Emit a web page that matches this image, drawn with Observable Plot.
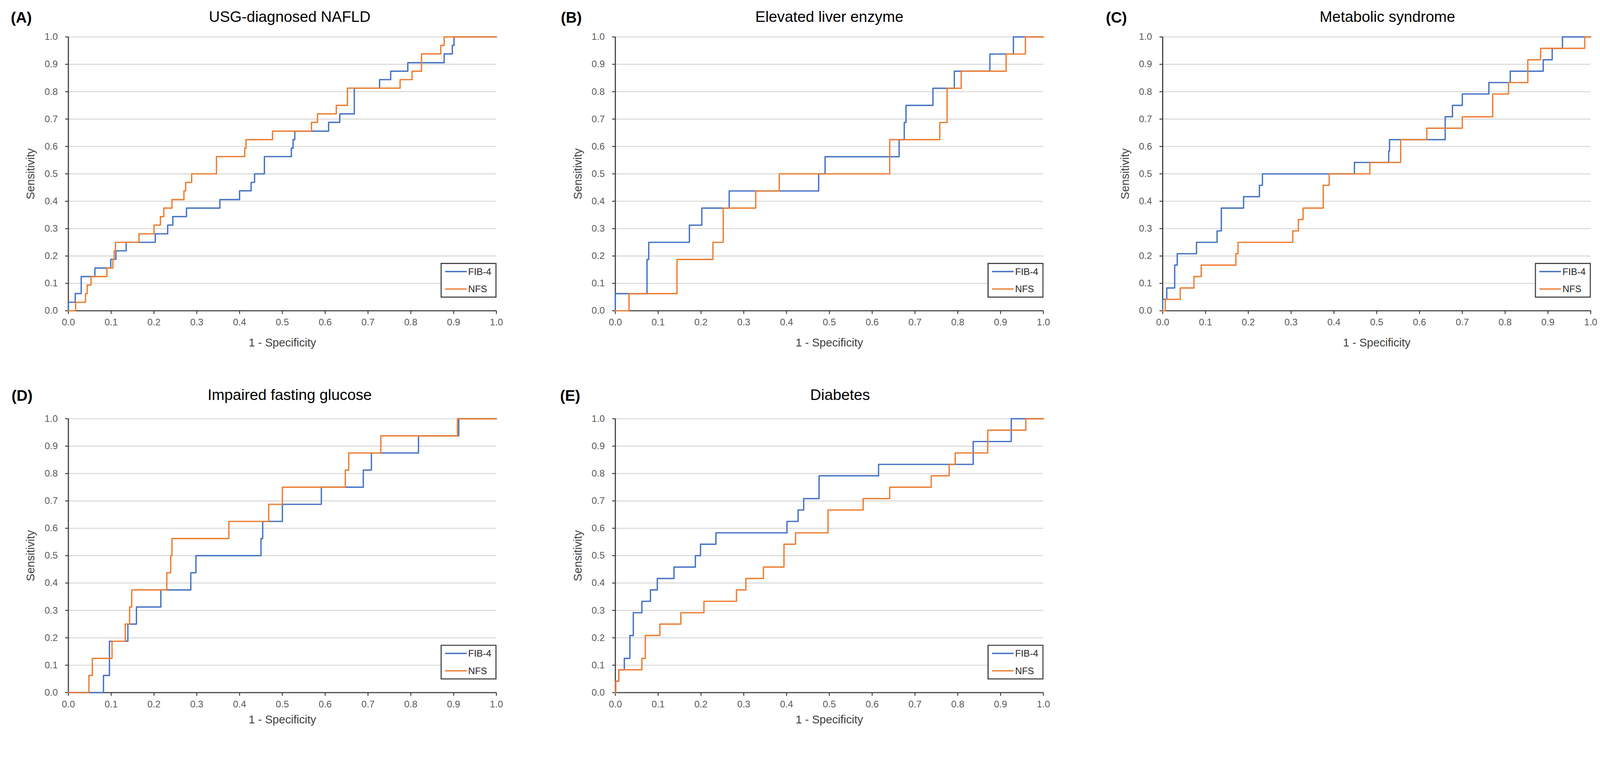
<!DOCTYPE html>
<html>
<head>
<meta charset="utf-8">
<script src="https://cdn.jsdelivr.net/npm/d3@7"></script>
<script src="https://cdn.jsdelivr.net/npm/@observablehq/plot@0.6"></script>
<style>
  html, body { margin: 0; padding: 0; background: #fff; overflow: hidden; }
  body { font-family: "Liberation Sans", Arial, sans-serif; }
  #root { position: absolute; left: 0; top: 0; width: 4224px; height: 1938px; transform-origin: 0 0; background: #fff; }
  .panel { position: absolute; }
  .legend { position: absolute; }
</style>
</head>
<body>
<div id="root"></div>
<script>
// ---------- text ----------
const tickValues = [0, 0.1, 0.2, 0.3, 0.4, 0.5, 0.6, 0.7, 0.8, 0.9, 1.0];
const titles = ["USG-diagnosed NAFLD", "Elevated liver enzyme", "Metabolic syndrome", "Impaired fasting glucose", "Diabetes"];
const letters = ["(A)", "(B)", "(C)", "(D)", "(E)"];
const seriesNames = ["FIB-4", "NFS"];
const xLabel = "1 - Specificity";
const yLabel = "Sensitivity";

// ---------- data (1 - specificity, sensitivity) at each step corner ----------
// (A) USG-diagnosed NAFLD
const fib4FprA = [0, 0, 0.016, 0.030, 0.062, 0.099, 0.111, 0.135, 0.203, 0.232, 0.244, 0.276, 0.354, 0.400, 0.427, 0.435, 0.458, 0.521, 0.525, 0.529, 0.608, 0.634, 0.668, 0.727, 0.753, 0.793, 0.878, 0.897, 0.901, 1.0];
const fib4TprA = [0, 0.031, 0.063, 0.125, 0.156, 0.188, 0.219, 0.250, 0.281, 0.313, 0.344, 0.375, 0.406, 0.438, 0.469, 0.500, 0.563, 0.594, 0.625, 0.656, 0.688, 0.719, 0.813, 0.844, 0.875, 0.906, 0.938, 0.969, 1.0, 1.0];
const nfsFprA = [0, 0.017, 0.040, 0.044, 0.053, 0.090, 0.104, 0.107, 0.110, 0.165, 0.200, 0.215, 0.223, 0.242, 0.270, 0.274, 0.288, 0.346, 0.412, 0.415, 0.477, 0.568, 0.582, 0.626, 0.652, 0.775, 0.803, 0.825, 0.870, 0.878, 1.0];
const nfsTprA = [0, 0.031, 0.063, 0.094, 0.125, 0.156, 0.188, 0.219, 0.250, 0.281, 0.313, 0.344, 0.375, 0.406, 0.438, 0.469, 0.500, 0.563, 0.594, 0.625, 0.656, 0.688, 0.719, 0.750, 0.813, 0.844, 0.875, 0.938, 0.969, 1.0, 1.0];

// (B) Elevated liver enzyme
const fib4FprB = [0, 0, 0.074, 0.078, 0.173, 0.202, 0.266, 0.475, 0.490, 0.663, 0.675, 0.679, 0.742, 0.792, 0.875, 0.930, 1.0];
const fib4TprB = [0, 0.0625, 0.1875, 0.25, 0.3125, 0.375, 0.4375, 0.5, 0.5625, 0.625, 0.6875, 0.75, 0.8125, 0.875, 0.9375, 1.0, 1.0];
const nfsFprB = [0, 0.032, 0.144, 0.228, 0.252, 0.328, 0.383, 0.641, 0.758, 0.775, 0.808, 0.913, 0.958, 1.0];
const nfsTprB = [0, 0.0625, 0.1875, 0.25, 0.375, 0.4375, 0.5, 0.625, 0.6875, 0.8125, 0.875, 0.9375, 1.0, 1.0];

// (C) Metabolic syndrome
const fib4FprC = [0, 0, 0.0095, 0.028, 0.034, 0.079, 0.127, 0.137, 0.189, 0.226, 0.233, 0.448, 0.528, 0.530, 0.660, 0.677, 0.700, 0.762, 0.812, 0.889, 0.910, 0.934, 1.0];
const fib4TprC = [0, 0.0417, 0.0833, 0.1667, 0.2083, 0.25, 0.2917, 0.375, 0.4167, 0.4583, 0.5, 0.5417, 0.5833, 0.625, 0.7083, 0.75, 0.7917, 0.8333, 0.875, 0.9167, 0.9583, 1.0, 1.0];
const nfsFprC = [0, 0.006, 0.041, 0.073, 0.090, 0.171, 0.176, 0.304, 0.317, 0.328, 0.375, 0.389, 0.484, 0.556, 0.617, 0.700, 0.771, 0.808, 0.853, 0.883, 0.986, 1.0];
const nfsTprC = [0, 0.0417, 0.0833, 0.125, 0.1667, 0.2083, 0.25, 0.2917, 0.3333, 0.375, 0.4583, 0.5, 0.5417, 0.625, 0.6667, 0.7083, 0.7917, 0.8333, 0.9167, 0.9583, 1.0, 1.0];

// (D) Impaired fasting glucose
const fib4FprD = [0, 0.082, 0.096, 0.139, 0.159, 0.216, 0.286, 0.298, 0.450, 0.454, 0.500, 0.591, 0.689, 0.708, 0.818, 0.912, 1.0];
const fib4TprD = [0, 0.0625, 0.1875, 0.25, 0.3125, 0.375, 0.4375, 0.5, 0.5625, 0.625, 0.6875, 0.75, 0.8125, 0.875, 0.9375, 1.0, 1.0];
const nfsFprD = [0, 0.048, 0.056, 0.102, 0.133, 0.143, 0.148, 0.230, 0.239, 0.242, 0.375, 0.468, 0.500, 0.647, 0.655, 0.730, 0.909, 1.0];
const nfsTprD = [0, 0.0625, 0.125, 0.1875, 0.25, 0.3125, 0.375, 0.4375, 0.5, 0.5625, 0.625, 0.6875, 0.75, 0.8125, 0.875, 0.9375, 1.0, 1.0];

// (E) Diabetes
const fib4FprE = [0, 0.001, 0.008, 0.021, 0.034, 0.042, 0.062, 0.082, 0.098, 0.137, 0.187, 0.199, 0.235, 0.401, 0.427, 0.440, 0.476, 0.615, 0.836, 0.925, 1.0];
const fib4TprE = [0, 0.0417, 0.0833, 0.125, 0.2083, 0.2917, 0.3333, 0.375, 0.4167, 0.4583, 0.5, 0.5417, 0.5833, 0.625, 0.6667, 0.7083, 0.7917, 0.8333, 0.9167, 1.0, 1.0];
const nfsFprE = [0, 0.001, 0.008, 0.062, 0.070, 0.104, 0.153, 0.207, 0.283, 0.305, 0.346, 0.394, 0.421, 0.497, 0.579, 0.641, 0.738, 0.780, 0.794, 0.870, 0.959, 1.0];
const nfsTprE = [0, 0.0417, 0.0833, 0.125, 0.2083, 0.25, 0.2917, 0.3333, 0.375, 0.4167, 0.4583, 0.5417, 0.5833, 0.6667, 0.7083, 0.75, 0.7917, 0.8333, 0.875, 0.9583, 1.0, 1.0];

const fib4Fpr = [fib4FprA, fib4FprB, fib4FprC, fib4FprD, fib4FprE];
const fib4Tpr = [fib4TprA, fib4TprB, fib4TprC, fib4TprD, fib4TprE];
const nfsFpr = [nfsFprA, nfsFprB, nfsFprC, nfsFprD, nfsFprE];
const nfsTpr = [nfsTprA, nfsTprB, nfsTprC, nfsTprD, nfsTprE];

// ---------- layout ----------
const root = document.getElementById("root");
const s = Math.min(window.innerWidth / 4224, window.innerHeight / 1938);
root.style.transform = `scale(${s})`;

const colors = ["#4472C4", "#ED7D31"];
const PW = 1130, PH = 723;
const ML = 160, MR = 25, MT = 80, MB = 110;
const layout = [
  {left: 180,  top: 97,   letterDx: -152, letterDy: -38, titleFrac: 0.517, titleDy: -40, xLabelDy: 94},
  {left: 1624, top: 97,   letterDx: -144, letterDy: -38, titleFrac: 0.500, titleDy: -40, xLabelDy: 94},
  {left: 3069, top: 97,   letterDx: -150, letterDy: -38, titleFrac: 0.525, titleDy: -40, xLabelDy: 94},
  {left: 180,  top: 1105, letterDx: -150, letterDy: -47, titleFrac: 0.517, titleDy: -49, xLabelDy: 81},
  {left: 1624, top: 1105, letterDx: -146, letterDy: -47, titleFrac: 0.525, titleDy: -49, xLabelDy: 81}
];
const font = "Liberation Sans, Arial, sans-serif";
const fmt = d3.format(".1f");

layout.forEach((L, i) => {
  const fib = fib4Fpr[i].map((x, j) => ({fpr: x, tpr: fib4Tpr[i][j]}));
  const nfs = nfsFpr[i].map((x, j) => ({fpr: x, tpr: nfsTpr[i][j]}));

  const chart = Plot.plot({
    width: PW + ML + MR,
    height: PH + MT + MB,
    marginLeft: ML, marginRight: MR, marginTop: MT, marginBottom: MB,
    style: {fontFamily: font, background: "transparent", overflow: "visible"},
    x: {domain: [0, 1], label: null},
    y: {domain: [0, 1], label: null},
    marks: [
      Plot.gridY(tickValues.slice(1), {stroke: "#d9d9d9", strokeOpacity: 1, strokeWidth: 2.7}),
      Plot.axisX(tickValues, {tickSize: 9, tickPadding: 12, tickFormat: fmt, fontSize: 25,
        fill: "#595959", stroke: "#3f3f3f", strokeWidth: 2.5, label: null}),
      Plot.axisY(tickValues, {tickSize: 8, tickPadding: 20, tickFormat: fmt, fontSize: 25,
        fill: "#595959", stroke: "#3f3f3f", strokeWidth: 2.5, label: null}),
      Plot.ruleY([0], {stroke: "#3f3f3f", strokeWidth: 3}),
      Plot.ruleX([0], {stroke: "#3f3f3f", strokeWidth: 3}),
      Plot.line(fib, {x: "fpr", y: "tpr", curve: "step-after", stroke: colors[0], strokeWidth: 3.5}),
      Plot.line(nfs, {x: "fpr", y: "tpr", curve: "step-after", stroke: colors[1], strokeWidth: 3.5}),
      Plot.text([letters[i]], {text: d => d, frameAnchor: "top-left", dx: L.letterDx, dy: L.letterDy,
        textAnchor: "start", lineAnchor: "bottom", fontSize: 40, fontWeight: "bold", fill: "#000"}),
      Plot.text([titles[i]], {text: d => d, frameAnchor: "top-left", dx: L.titleFrac * PW, dy: L.titleDy,
        textAnchor: "middle", lineAnchor: "bottom", fontSize: 40, fill: "#000"}),
      Plot.text([xLabel], {text: d => d, frameAnchor: "bottom", dy: L.xLabelDy,
        textAnchor: "middle", lineAnchor: "bottom", fontSize: 30, fill: "#404040"}),
      Plot.text([yLabel], {text: d => d, frameAnchor: "left", dx: -99, rotate: -90,
        textAnchor: "middle", lineAnchor: "middle", fontSize: 30, fill: "#404040"})
    ]
  });
  const wrap = document.createElement("div");
  wrap.className = "panel";
  wrap.style.left = (L.left - ML) + "px";
  wrap.style.top = (L.top - MT) + "px";
  wrap.appendChild(chart);
  root.appendChild(wrap);

  // legend box (bottom-right of the plot frame)
  const LW = 148, LH = 92;
  const lg = d3.create("svg").attr("class", "legend")
    .attr("width", LW).attr("height", LH)
    .style("left", (L.left + PW + 1 - LW) + "px")
    .style("top", (L.top + PH - 34 - LH) + "px");
  lg.append("rect").attr("x", 1.5).attr("y", 1.5).attr("width", LW - 3).attr("height", LH - 3)
    .attr("fill", "#fff").attr("stroke", "#3f3f3f").attr("stroke-width", 3);
  seriesNames.forEach((name, k) => {
    const cy = k === 0 ? 23 : LH - 23;
    lg.append("line").attr("x1", 12).attr("x2", 69).attr("y1", cy).attr("y2", cy)
      .attr("stroke", colors[k]).attr("stroke-width", 3.5);
    lg.append("text").attr("x", 73).attr("y", cy).attr("dy", "0.35em")
      .attr("font-family", font).attr("font-size", 25).attr("fill", "#262626").text(name);
  });
  root.appendChild(lg.node());
});
</script>
</body>
</html>
